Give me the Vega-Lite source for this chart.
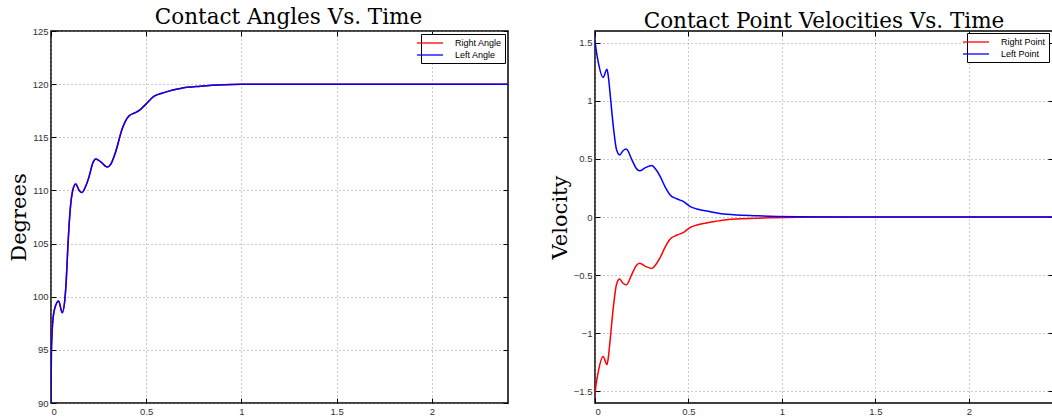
{
  "$schema": "https://vega.github.io/schema/vega-lite/v6.json",
  "background": "white",
  "padding": {"left": 7, "top": 5, "right": 0, "bottom": 0},
  "spacing": 38,
  "datasets": {
    "angles": [
      {"t": 0, "v": 90, "s": "Right Angle"},
      {"t": 0.002, "v": 94.8, "s": "Right Angle"},
      {"t": 0.0105, "v": 97.9, "s": "Right Angle"},
      {"t": 0.025, "v": 99.2, "s": "Right Angle"},
      {"t": 0.04, "v": 99.6, "s": "Right Angle"},
      {"t": 0.059, "v": 98.5, "s": "Right Angle"},
      {"t": 0.072, "v": 99.6, "s": "Right Angle"},
      {"t": 0.08, "v": 101.5, "s": "Right Angle"},
      {"t": 0.088, "v": 104.5, "s": "Right Angle"},
      {"t": 0.1, "v": 108, "s": "Right Angle"},
      {"t": 0.117, "v": 110.2, "s": "Right Angle"},
      {"t": 0.13, "v": 110.6, "s": "Right Angle"},
      {"t": 0.148, "v": 110.0, "s": "Right Angle"},
      {"t": 0.162, "v": 109.8, "s": "Right Angle"},
      {"t": 0.18, "v": 110.3, "s": "Right Angle"},
      {"t": 0.2, "v": 111.3, "s": "Right Angle"},
      {"t": 0.22, "v": 112.6, "s": "Right Angle"},
      {"t": 0.236, "v": 112.95, "s": "Right Angle"},
      {"t": 0.26, "v": 112.7, "s": "Right Angle"},
      {"t": 0.296, "v": 112.2, "s": "Right Angle"},
      {"t": 0.315, "v": 112.5, "s": "Right Angle"},
      {"t": 0.339, "v": 113.6, "s": "Right Angle"},
      {"t": 0.374, "v": 115.8, "s": "Right Angle"},
      {"t": 0.409, "v": 117.0, "s": "Right Angle"},
      {"t": 0.44, "v": 117.3, "s": "Right Angle"},
      {"t": 0.462, "v": 117.5, "s": "Right Angle"},
      {"t": 0.497, "v": 118.1, "s": "Right Angle"},
      {"t": 0.54, "v": 118.85, "s": "Right Angle"},
      {"t": 0.593, "v": 119.2, "s": "Right Angle"},
      {"t": 0.64, "v": 119.45, "s": "Right Angle"},
      {"t": 0.68, "v": 119.6, "s": "Right Angle"},
      {"t": 0.785, "v": 119.8, "s": "Right Angle"},
      {"t": 0.908, "v": 119.94, "s": "Right Angle"},
      {"t": 1.0, "v": 119.98, "s": "Right Angle"},
      {"t": 1.2, "v": 120, "s": "Right Angle"},
      {"t": 2.4, "v": 120, "s": "Right Angle"},
      {"t": 0, "v": 90, "s": "Left Angle"},
      {"t": 0.002, "v": 94.8, "s": "Left Angle"},
      {"t": 0.0105, "v": 97.9, "s": "Left Angle"},
      {"t": 0.025, "v": 99.2, "s": "Left Angle"},
      {"t": 0.04, "v": 99.6, "s": "Left Angle"},
      {"t": 0.059, "v": 98.5, "s": "Left Angle"},
      {"t": 0.072, "v": 99.6, "s": "Left Angle"},
      {"t": 0.08, "v": 101.5, "s": "Left Angle"},
      {"t": 0.088, "v": 104.5, "s": "Left Angle"},
      {"t": 0.1, "v": 108, "s": "Left Angle"},
      {"t": 0.117, "v": 110.2, "s": "Left Angle"},
      {"t": 0.13, "v": 110.6, "s": "Left Angle"},
      {"t": 0.148, "v": 110.0, "s": "Left Angle"},
      {"t": 0.162, "v": 109.8, "s": "Left Angle"},
      {"t": 0.18, "v": 110.3, "s": "Left Angle"},
      {"t": 0.2, "v": 111.3, "s": "Left Angle"},
      {"t": 0.22, "v": 112.6, "s": "Left Angle"},
      {"t": 0.236, "v": 112.95, "s": "Left Angle"},
      {"t": 0.26, "v": 112.7, "s": "Left Angle"},
      {"t": 0.296, "v": 112.2, "s": "Left Angle"},
      {"t": 0.315, "v": 112.5, "s": "Left Angle"},
      {"t": 0.339, "v": 113.6, "s": "Left Angle"},
      {"t": 0.374, "v": 115.8, "s": "Left Angle"},
      {"t": 0.409, "v": 117.0, "s": "Left Angle"},
      {"t": 0.44, "v": 117.3, "s": "Left Angle"},
      {"t": 0.462, "v": 117.5, "s": "Left Angle"},
      {"t": 0.497, "v": 118.1, "s": "Left Angle"},
      {"t": 0.54, "v": 118.85, "s": "Left Angle"},
      {"t": 0.593, "v": 119.2, "s": "Left Angle"},
      {"t": 0.64, "v": 119.45, "s": "Left Angle"},
      {"t": 0.68, "v": 119.6, "s": "Left Angle"},
      {"t": 0.785, "v": 119.8, "s": "Left Angle"},
      {"t": 0.908, "v": 119.94, "s": "Left Angle"},
      {"t": 1.0, "v": 119.98, "s": "Left Angle"},
      {"t": 1.2, "v": 120, "s": "Left Angle"},
      {"t": 2.4, "v": 120, "s": "Left Angle"}
    ],
    "vel": [
      {"t": 0, "v": -1.52, "s": "Right Point"},
      {"t": 0.005, "v": -1.45, "s": "Right Point"},
      {"t": 0.02, "v": -1.31, "s": "Right Point"},
      {"t": 0.043, "v": -1.2, "s": "Right Point"},
      {"t": 0.064, "v": -1.27, "s": "Right Point"},
      {"t": 0.072, "v": -1.2, "s": "Right Point"},
      {"t": 0.082, "v": -1.04, "s": "Right Point"},
      {"t": 0.1, "v": -0.75, "s": "Right Point"},
      {"t": 0.115, "v": -0.58, "s": "Right Point"},
      {"t": 0.132, "v": -0.534, "s": "Right Point"},
      {"t": 0.15, "v": -0.57, "s": "Right Point"},
      {"t": 0.167, "v": -0.584, "s": "Right Point"},
      {"t": 0.198, "v": -0.49, "s": "Right Point"},
      {"t": 0.22, "v": -0.42, "s": "Right Point"},
      {"t": 0.239, "v": -0.397, "s": "Right Point"},
      {"t": 0.27, "v": -0.425, "s": "Right Point"},
      {"t": 0.304, "v": -0.442, "s": "Right Point"},
      {"t": 0.325, "v": -0.41, "s": "Right Point"},
      {"t": 0.349, "v": -0.347, "s": "Right Point"},
      {"t": 0.375, "v": -0.26, "s": "Right Point"},
      {"t": 0.402, "v": -0.19, "s": "Right Point"},
      {"t": 0.44, "v": -0.155, "s": "Right Point"},
      {"t": 0.474, "v": -0.132, "s": "Right Point"},
      {"t": 0.51, "v": -0.09, "s": "Right Point"},
      {"t": 0.545, "v": -0.069, "s": "Right Point"},
      {"t": 0.616, "v": -0.046, "s": "Right Point"},
      {"t": 0.705, "v": -0.023, "s": "Right Point"},
      {"t": 0.865, "v": -0.011, "s": "Right Point"},
      {"t": 1.08, "v": -0.003, "s": "Right Point"},
      {"t": 1.3, "v": 0, "s": "Right Point"},
      {"t": 2.45, "v": 0, "s": "Right Point"},
      {"t": 0, "v": 1.52, "s": "Left Point"},
      {"t": 0.005, "v": 1.45, "s": "Left Point"},
      {"t": 0.02, "v": 1.31, "s": "Left Point"},
      {"t": 0.043, "v": 1.2, "s": "Left Point"},
      {"t": 0.064, "v": 1.27, "s": "Left Point"},
      {"t": 0.072, "v": 1.2, "s": "Left Point"},
      {"t": 0.082, "v": 1.04, "s": "Left Point"},
      {"t": 0.1, "v": 0.75, "s": "Left Point"},
      {"t": 0.115, "v": 0.58, "s": "Left Point"},
      {"t": 0.132, "v": 0.534, "s": "Left Point"},
      {"t": 0.15, "v": 0.57, "s": "Left Point"},
      {"t": 0.167, "v": 0.584, "s": "Left Point"},
      {"t": 0.198, "v": 0.49, "s": "Left Point"},
      {"t": 0.22, "v": 0.42, "s": "Left Point"},
      {"t": 0.239, "v": 0.397, "s": "Left Point"},
      {"t": 0.27, "v": 0.425, "s": "Left Point"},
      {"t": 0.304, "v": 0.442, "s": "Left Point"},
      {"t": 0.325, "v": 0.41, "s": "Left Point"},
      {"t": 0.349, "v": 0.347, "s": "Left Point"},
      {"t": 0.375, "v": 0.26, "s": "Left Point"},
      {"t": 0.402, "v": 0.19, "s": "Left Point"},
      {"t": 0.44, "v": 0.155, "s": "Left Point"},
      {"t": 0.474, "v": 0.132, "s": "Left Point"},
      {"t": 0.51, "v": 0.09, "s": "Left Point"},
      {"t": 0.545, "v": 0.069, "s": "Left Point"},
      {"t": 0.616, "v": 0.046, "s": "Left Point"},
      {"t": 0.705, "v": 0.023, "s": "Left Point"},
      {"t": 0.865, "v": 0.011, "s": "Left Point"},
      {"t": 1.08, "v": 0.003, "s": "Left Point"},
      {"t": 1.3, "v": 0, "s": "Left Point"},
      {"t": 2.45, "v": 0, "s": "Left Point"}
    ]
  },
  "hconcat": [
    {
      "width": 457,
      "height": 372,
      "title": {"text": "Contact Angles Vs. Time", "dx": 9},
      "data": {"name": "angles"},
      "layer": [
        {
          "transform": [{"filter": "datum.s === 'Right Angle'"}],
          "mark": {"type": "line", "strokeWidth": 1.5, "interpolate": "monotone", "clip": true},
          "encoding": {
            "x": {"field": "t", "type": "quantitative", "scale": {"domain": [0, 2.4], "nice": false, "zero": false},
                  "axis": {"values": [0, 0.5, 1, 1.5, 2], "format": "~g", "title": null, "grid": true}},
            "y": {"field": "v", "type": "quantitative", "scale": {"domain": [90, 125], "nice": false, "zero": false},
                  "axis": {"values": [90, 95, 100, 105, 110, 115, 120, 125], "format": "~g", "title": "Degrees", "grid": true}},
            "color": {"field": "s", "type": "nominal", "scale": {"domain": ["Right Angle", "Left Angle"], "range": ["#ff0000", "#0000ff"]}, "legend": {"title": null}}
          }
        },
        {
          "transform": [{"filter": "datum.s === 'Left Angle'"}],
          "mark": {"type": "line", "strokeWidth": 1.5, "interpolate": "monotone", "clip": true},
          "encoding": {
            "x": {"field": "t", "type": "quantitative", "axis": null},
            "y": {"field": "v", "type": "quantitative", "axis": null},
            "color": {"field": "s", "type": "nominal", "legend": {"title": null}}
          }
        },
        {
          "mark": {"type": "line", "opacity": 0},
          "encoding": {
            "x": {"field": "t", "type": "quantitative", "axis": {"orient": "top", "labels": false, "grid": false, "title": null, "values": [0, 0.5, 1, 1.5, 2]}},
            "y": {"field": "v", "type": "quantitative", "axis": {"orient": "right", "labels": false, "grid": false, "title": null, "values": [90, 95, 100, 105, 110, 115, 120, 125]}}
          }
        }
      ],
      "resolve": {"axis": {"x": "independent", "y": "independent"}}
    },
    {
      "width": 458,
      "height": 372,
      "title": "Contact Point Velocities Vs. Time",
      "data": {"name": "vel"},
      "layer": [
        {
          "transform": [{"filter": "datum.s === 'Right Point'"}],
          "mark": {"type": "line", "strokeWidth": 1.5, "interpolate": "monotone", "clip": true},
          "encoding": {
            "x": {"field": "t", "type": "quantitative", "scale": {"domain": [0, 2.45], "nice": false, "zero": false},
                  "axis": {"values": [0, 0.5, 1, 1.5, 2], "format": "~g", "title": null, "grid": true}},
            "y": {"field": "v", "type": "quantitative", "scale": {"domain": [-1.6, 1.6], "nice": false, "zero": false},
                  "axis": {"values": [-1.5, -1, -0.5, 0, 0.5, 1, 1.5], "format": "~g", "title": "Velocity", "grid": true}},
            "color": {"field": "s", "type": "nominal", "scale": {"domain": ["Right Point", "Left Point"], "range": ["#ff0000", "#0000ff"]},
                      "legend": {"title": null, "orient": "none", "legendX": 372, "legendY": 2}}
          }
        },
        {
          "transform": [{"filter": "datum.s === 'Left Point'"}],
          "mark": {"type": "line", "strokeWidth": 1.5, "interpolate": "monotone", "clip": true},
          "encoding": {
            "x": {"field": "t", "type": "quantitative", "axis": null},
            "y": {"field": "v", "type": "quantitative", "axis": null},
            "color": {"field": "s", "type": "nominal", "legend": {"title": null, "orient": "none", "legendX": 372, "legendY": 2}}
          }
        },
        {
          "mark": {"type": "line", "opacity": 0},
          "encoding": {
            "x": {"field": "t", "type": "quantitative", "axis": {"orient": "top", "labels": false, "grid": false, "title": null, "values": [0, 0.5, 1, 1.5, 2]}},
            "y": {"field": "v", "type": "quantitative", "axis": {"orient": "right", "labels": false, "grid": false, "title": null, "values": [-1.5, -1, -0.5, 0, 0.5, 1, 1.5]}}
          }
        }
      ],
      "resolve": {"axis": {"x": "independent", "y": "independent"}}
    }
  ],
  "resolve": {"scale": {"color": "independent"}},
  "config": {
    "view": {"stroke": "black", "strokeWidth": 1.5},
    "axis": {
      "labelFont": "Liberation Sans", "labelFontSize": 9.5, "labelColor": "#333",
      "titleFont": "DejaVu Serif", "titleFontSize": 21, "titleFontWeight": "normal", "titleColor": "black",
      "domain": false, "tickColor": "black", "tickSize": -5, "tickWidth": 1,
      "gridColor": "#888", "gridDash": [1, 3], "gridWidth": 1, "gridOpacity": 0.9,
      "labelPadding": 8, "titlePadding": 3
    },
    "title": {"font": "DejaVu Serif", "fontSize": 21.5, "fontWeight": "normal", "color": "black", "offset": -2},
    "legend": {
      "orient": "top-right", "offset": 3, "strokeColor": "black", "fillColor": "white", "padding": 3,
      "labelFont": "Liberation Sans", "labelFontSize": 9, "labelColor": "black",
      "symbolType": "M-2.6,0H2.6", "symbolSize": 100, "symbolStrokeWidth": 1.3, "rowPadding": 1, "labelOffset": 19
    }
  }
}
